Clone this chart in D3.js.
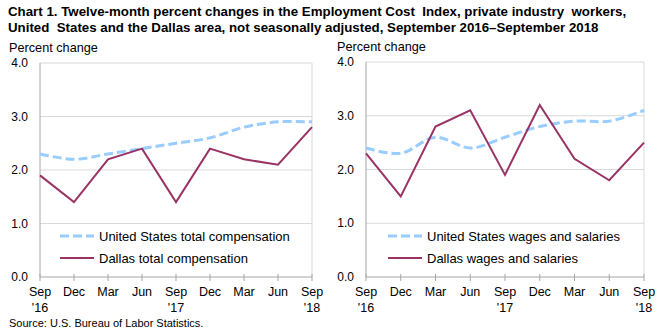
<!DOCTYPE html>
<html>
<head>
<meta charset="utf-8">
<script src="https://cdn.jsdelivr.net/npm/d3@7"></script>
<style>
  body { margin: 0; background: #fff; }
  svg { display: block; font-family: "Liberation Sans", Arial, sans-serif; }
</style>
</head>
<body>
<svg id="chart" width="665" height="335"></svg>
<script>
// quarters shared by both panels
const quarters = ['Sep16', 'Dec16', 'Mar17', 'Jun17', 'Sep17', 'Dec17', 'Mar18', 'Jun18', 'Sep18'];
const monthLabels = ['Sep', 'Dec', 'Mar', 'Jun', 'Sep', 'Dec', 'Mar', 'Jun', 'Sep'];
const yearLabels = ["'16", '', '', '', "'17", '', '', '', "'18"];
const yTicks = [0, 1, 2, 3, 4];

// left panel - total compensation
const usTotalComp = [2.3, 2.2, 2.3, 2.4, 2.5, 2.6, 2.8, 2.9, 2.9];
const dallasTotalComp = [1.9, 1.4, 2.2, 2.4, 1.4, 2.4, 2.2, 2.1, 2.8];

// right panel - wages and salaries
const usWages = [2.4, 2.3, 2.6, 2.4, 2.6, 2.8, 2.9, 2.9, 3.1];
const dallasWages = [2.3, 1.5, 2.8, 3.1, 1.9, 3.2, 2.2, 1.8, 2.5];

const svg = d3.select('#chart');

const titleLines = [
  'Chart 1. Twelve-month percent changes in the Employment Cost  Index, private industry  workers,',
  'United  States and the Dallas area, not seasonally adjusted, September 2016\u2013September 2018'
];
svg.append('g').selectAll('text')
  .data(titleLines)
  .join('text')
    .attr('x', 8)
    .attr('y', (d, i) => 16 + i * 16)
    .style('font-size', '13.3px')
    .style('font-weight', 'bold')
    .style('white-space', 'pre')
    .text(d => d);

svg.append('text')
  .attr('x', 9)
  .attr('y', 327)
  .style('font-size', '11px')
  .text('Source: U.S. Bureau of Labor Statistics.');

function drawPanel(opt) {
  const g = svg.append('g');
  const x = d3.scalePoint().domain(quarters).range([opt.left, opt.right]);
  const y = d3.scaleLinear().domain([0, 4]).range([opt.bottom, opt.top]);

  g.append('text')
    .attr('x', opt.labelX)
    .attr('y', opt.top - 11)
    .style('font-size', '12.7px')
    .text('Percent change');

  // gridlines
  g.selectAll('.grid')
    .data(yTicks.filter(d => d > 0))
    .join('line')
      .attr('x1', opt.left).attr('x2', opt.right)
      .attr('y1', d => y(d)).attr('y2', d => y(d))
      .style('stroke', '#d9d9d9')
      .style('stroke-width', 1);

  // left and right frame
  [opt.left, opt.right].forEach(xx => {
    g.append('line')
      .attr('x1', xx).attr('x2', xx)
      .attr('y1', opt.top).attr('y2', opt.bottom)
      .style('stroke', xx == opt.left ? '#a6a6a6' : '#d9d9d9');
  });

  // y labels
  g.selectAll('.ylab')
    .data(yTicks)
    .join('text')
      .attr('x', opt.left - 12)
      .attr('y', d => y(d) + 4)
      .attr('text-anchor', 'end')
      .style('font-size', '12px')
      .text(d => d.toFixed(1));

  // x axis
  g.append('line')
    .attr('x1', opt.left).attr('x2', opt.right)
    .attr('y1', opt.bottom).attr('y2', opt.bottom)
    .style('stroke', '#a6a6a6');
  g.selectAll('.tick')
    .data(quarters)
    .join('line')
      .attr('x1', d => x(d)).attr('x2', d => x(d))
      .attr('y1', opt.bottom - 3).attr('y2', opt.bottom + 4)
      .style('stroke', '#a6a6a6');
  g.selectAll('.mlab')
    .data(quarters)
    .join('text')
      .attr('x', d => x(d))
      .attr('y', opt.bottom + 19)
      .attr('text-anchor', 'middle')
      .style('font-size', '12.5px')
      .text((d, i) => monthLabels[i]);
  g.selectAll('.ylab2')
    .data(quarters)
    .join('text')
      .attr('x', d => x(d))
      .attr('y', opt.bottom + 35)
      .attr('text-anchor', 'middle')
      .style('font-size', '12.5px')
      .text((d, i) => yearLabels[i]);

  const smooth = d3.line()
    .x((d, i) => x(quarters[i]))
    .y(d => y(d))
    .curve(d3.curveCatmullRom.alpha(0.5));
  const straight = d3.line()
    .x((d, i) => x(quarters[i]))
    .y(d => y(d));

  g.append('path')
    .attr('d', smooth(opt.us))
    .style('fill', 'none')
    .style('stroke', '#99ccff')
    .style('stroke-width', 3)
    .style('stroke-dasharray', '9,4');
  g.append('path')
    .attr('d', straight(opt.dallas))
    .style('fill', 'none')
    .style('stroke', '#993366')
    .style('stroke-width', 2);

  // legend
  const leg = [
    { label: opt.usLabel, dash: '9,4', color: '#99ccff', w: 3 },
    { label: opt.dallasLabel, dash: null, color: '#993366', w: 2 }
  ];
  leg.forEach((l, i) => {
    const ly = opt.legY + i * 22;
    g.append('line')
      .attr('x1', opt.legX).attr('x2', opt.legX + 34)
      .attr('y1', ly).attr('y2', ly)
      .style('stroke', l.color)
      .style('stroke-width', l.w)
      .style('stroke-dasharray', l.dash);
    g.append('text')
      .attr('x', opt.legX + 39)
      .attr('y', ly + 5)
      .style('font-size', '13px')
      .text(l.label);
  });
}

drawPanel({
  left: 40, right: 312, top: 63, bottom: 277, labelX: 9,
  us: usTotalComp, dallas: dallasTotalComp,
  usLabel: 'United States total compensation',
  dallasLabel: 'Dallas total compensation',
  legX: 60, legY: 236
});

drawPanel({
  left: 366, right: 644, top: 62, bottom: 277, labelX: 337,
  us: usWages, dallas: dallasWages,
  usLabel: 'United States wages and salaries',
  dallasLabel: 'Dallas wages and salaries',
  legX: 388, legY: 236
});
</script>
</body>
</html>
